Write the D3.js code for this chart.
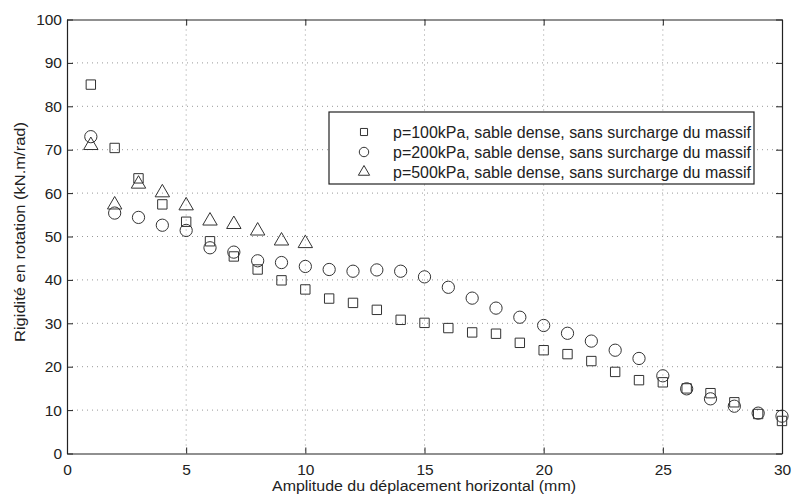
<!DOCTYPE html>
<html><head><meta charset="utf-8">
<script src="https://cdn.jsdelivr.net/npm/d3@7/dist/d3.min.js"></script>
<style>body{margin:0;background:#fff;} svg{display:block;font-family:"Liberation Sans",Arial,sans-serif;}</style>
</head><body>
<svg id="c" width="792" height="497"></svg>
<script>
const amplitude = [1,2,3,4,5,6,7,8,9,10,11,12,13,14,15,16,17,18,19,20,21,22,23,24,25,26,27,28,29,30];
const p100 = [85.0,70.4,63.4,57.4,53.4,48.9,45.4,42.4,39.9,37.8,35.7,34.7,33.1,30.8,30.1,28.9,27.9,27.6,25.5,23.8,22.9,21.3,18.8,16.9,16.4,15.0,13.9,11.8,9.1,7.5];
const p200 = [73.0,55.4,54.4,52.6,51.4,47.4,46.4,44.4,44.0,43.1,42.4,42.0,42.3,42.0,40.7,38.3,35.8,33.5,31.4,29.5,27.7,25.9,23.8,21.9,17.9,14.9,12.6,10.9,9.3,8.6];
const amplitude500 = [1,2,3,4,5,6,7,8,9,10];
const p500 = [71.0,57.3,62.1,60.1,57.1,53.6,52.8,51.3,49.0,48.4];
const seriesNames = ["p=100kPa, sable dense, sans surcharge du massif","p=200kPa, sable dense, sans surcharge du massif","p=500kPa, sable dense, sans surcharge du massif"];
const xTicks = [0,5,10,15,20,25,30];
const yTicks = [0,10,20,30,40,50,60,70,80,90,100];
const xLabel = "Amplitude du déplacement horizontal (mm)";
const yLabel = "Rigidité en rotation (kN.m/rad)";

const svg = d3.select("#c");
const L=67, R=782, T=19.5, B=453.5;
const x = d3.scaleLinear().domain([0,30]).range([L,R]);
const y = d3.scaleLinear().domain([0,100]).range([B,T]);
const stroke="#333";

// grid
const g = svg.append("g");
g.selectAll(".gx").data(xTicks.slice(1,-1)).enter().append("line")
 .attr("x1",d=>x(d)).attr("x2",d=>x(d)).attr("y1",T).attr("y2",B)
 .attr("stroke","#999").attr("stroke-width",1).attr("stroke-dasharray","1,4");
g.selectAll(".gy").data(yTicks.slice(1,-1)).enter().append("line")
 .attr("y1",d=>y(d)).attr("y2",d=>y(d)).attr("x1",L).attr("x2",R)
 .attr("stroke","#999").attr("stroke-width",1).attr("stroke-dasharray","1,4");

// axes
const fmt = d3.format("d");
const ax = svg.append("g").attr("transform",`translate(0,${B})`)
 .call(d3.axisBottom(x).tickValues(xTicks).tickFormat(fmt).tickSizeInner(-6).tickSizeOuter(0).tickPadding(10));
const axT = svg.append("g").attr("transform",`translate(0,${T})`)
 .call(d3.axisTop(x).tickValues(xTicks).tickFormat("").tickSizeInner(-6).tickSizeOuter(0));
const ay = svg.append("g").attr("transform",`translate(${L},0)`)
 .call(d3.axisLeft(y).tickValues(yTicks).tickFormat(fmt).tickSizeInner(-6).tickSizeOuter(0).tickPadding(5));
const ayR = svg.append("g").attr("transform",`translate(${R},0)`)
 .call(d3.axisRight(y).tickValues(yTicks).tickFormat("").tickSizeInner(-6).tickSizeOuter(0));
[ax,axT,ay,ayR].forEach(a=>{
  a.selectAll("path").attr("stroke","#222").attr("stroke-width",1.2);
  a.selectAll("line").attr("stroke","#222");
  a.selectAll("text").attr("font-size",15.5).attr("fill","#222").attr("font-family","Liberation Sans, Arial, sans-serif");
});

// labels
svg.append("text").attr("x",(272+576)/2).attr("y",491).attr("text-anchor","middle")
 .attr("font-size",15.5).attr("fill","#222").attr("textLength",304).attr("lengthAdjust","spacingAndGlyphs").text(xLabel);
svg.append("text").attr("transform",`translate(25,232) rotate(-90)`).attr("text-anchor","middle")
 .attr("font-size",15.5).attr("fill","#222").attr("textLength",220).attr("lengthAdjust","spacingAndGlyphs").text(yLabel);

// markers
const sq = d3.symbol().type(d3.symbolSquare).size(88);
const ci = d3.symbol().type(d3.symbolCircle).size(118);
const tr = d3.symbol().type(d3.symbolTriangle).size(90);
const plot = svg.append("g");
function drawSeries(xs, ys, sym){
  plot.append("g").selectAll("path").data(ys).enter().append("path")
   .attr("d",sym).attr("transform",(d,i)=>`translate(${x(xs[i])},${y(d)})`)
   .attr("fill","none").attr("stroke",stroke).attr("stroke-width",1);
}
drawSeries(amplitude,p100,sq);
drawSeries(amplitude,p200,ci);
drawSeries(amplitude500,p500,tr);

// legend
const lg = svg.append("g");
lg.append("rect").attr("x",329).attr("y",112).attr("width",425).attr("height",72)
 .attr("fill","#fff").attr("stroke","#222").attr("stroke-width",1.2);
const syms=[d3.symbol().type(d3.symbolSquare).size(50),d3.symbol().type(d3.symbolCircle).size(70),d3.symbol().type(d3.symbolTriangle).size(55)];
seriesNames.forEach((n,i)=>{
  const yy = 132 + i*20;
  lg.append("path").attr("d",syms[i]).attr("transform",`translate(364,${yy})`)
    .attr("fill","none").attr("stroke",stroke).attr("stroke-width",1);
  lg.append("text").attr("x",393).attr("y",yy+5.5).attr("font-size",16).attr("fill","#222")
    .attr("textLength",358).attr("lengthAdjust","spacingAndGlyphs").text(n);
});
</script>
</body></html>
